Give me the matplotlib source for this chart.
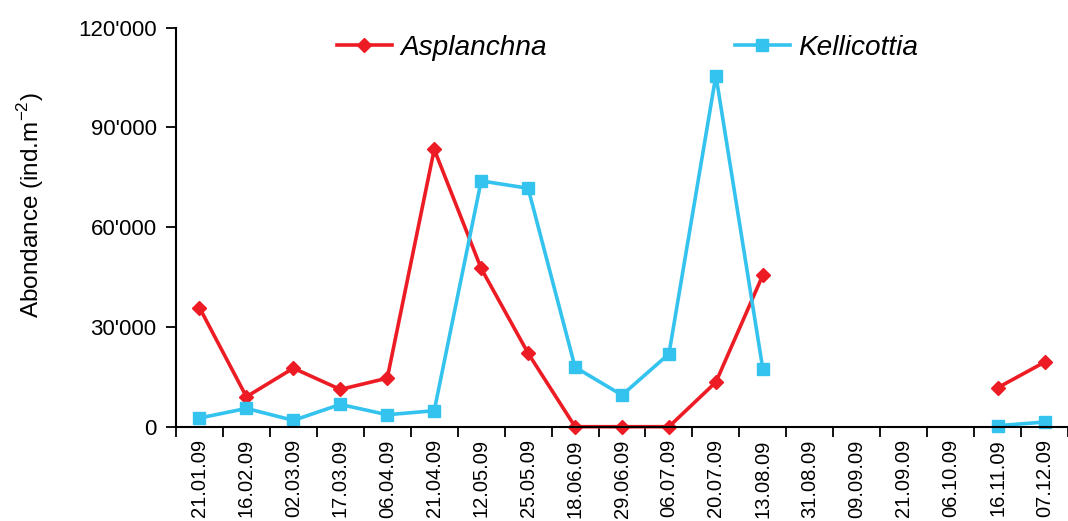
import matplotlib
matplotlib.use("Agg")
import matplotlib.pyplot as plt
import numpy as np
from matplotlib.ticker import FuncFormatter, FixedLocator

plt.rcParams['font.family'] = ['Liberation Sans', 'DejaVu Sans']

dates = ["21.01.09", "16.02.09", "02.03.09", "17.03.09", "06.04.09", "21.04.09",
         "12.05.09", "25.05.09", "18.06.09", "29.06.09", "06.07.09", "20.07.09",
         "13.08.09", "31.08.09", "09.09.09", "21.09.09", "06.10.09", "16.11.09",
         "07.12.09"]
nan = np.nan
asplanchna = [35800, 9000, 17600, 11200, 14600, 83400, 47600, 22100, 0, 0, 0,
              13400, 45600, nan, nan, nan, nan, 11700, 19400]
kellicottia = [2600, 5500, 1900, 6700, 3600, 4800, 73900, 71700, 17900, 9500,
               21900, 105600, 17300, nan, nan, nan, nan, 300, 1400]
yticks = [0, 30000, 60000, 90000, 120000]

red = "#ED1C24"
cyan = "#33C3EE"

fig = plt.figure(figsize=(10.68, 5.21), dpi=100)
ax = fig.add_axes([0.1648, 0.181, 0.8352, 0.766])
x = np.arange(len(dates))
ax.plot(x, asplanchna, color=red, lw=2.6, marker='D', ms=7, label="Asplanchna", clip_on=False)
ax.plot(x, kellicottia, color=cyan, lw=2.6, marker='s', ms=8, label="Kellicottia", clip_on=False)

ax.set_xlim(-0.5, len(dates) - 0.5)
ax.set_ylim(0, 120000)
ax.set_yticks(yticks)
ax.yaxis.set_major_formatter(FuncFormatter(lambda v, p: f"{int(v):,}".replace(",", "'")))
ax.set_xticks(x)
ax.set_xticklabels(dates, rotation=90, fontsize=14.5)
ax.xaxis.set_minor_locator(FixedLocator(np.arange(-0.5, len(dates), 1.0)))
ax.tick_params(axis='x', which='major', length=0, pad=9)
ax.tick_params(axis='x', which='minor', length=7, width=1.3, direction='out')
ax.tick_params(axis='y', length=7, width=1.3, labelsize=16, pad=7)
for s in ['top', 'right']:
    ax.spines[s].set_visible(False)
for s in ['left', 'bottom']:
    ax.spines[s].set_linewidth(1.5)
ax.set_ylabel("Abondance (ind.m$^{\\mathregular{-2}}$)", fontsize=17.5, labelpad=23)
ax.yaxis.label.set_y(0.556)

leg = ax.legend(loc='upper left', bbox_to_anchor=(0.152, 1.045), ncol=2, frameon=False,
                prop={'style': 'italic', 'size': 20.2}, handlelength=1.95,
                handletextpad=0.3, columnspacing=6.72)
fig.savefig("out.png", dpi=100)
